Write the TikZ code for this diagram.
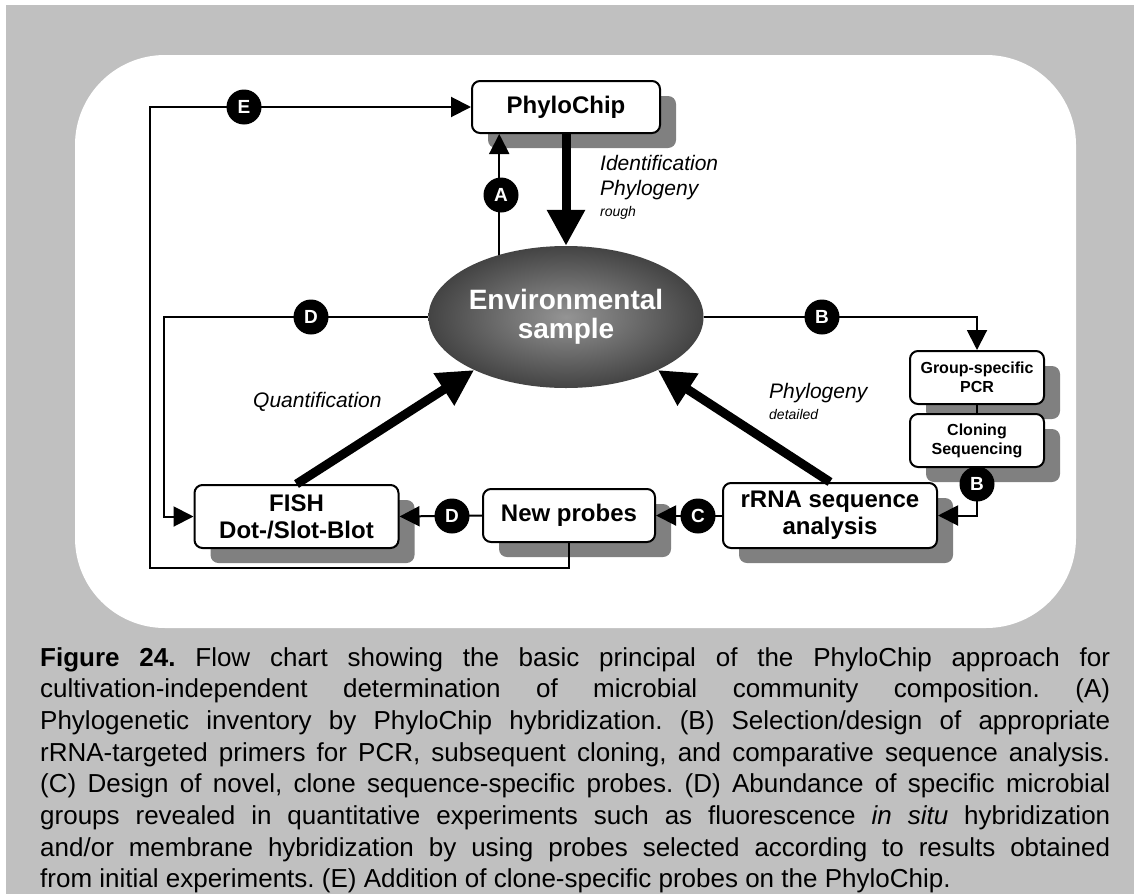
\documentclass[tikz,border=0pt]{standalone}
\usepackage{fontspec}
\setmainfont{Liberation Sans}
\usepackage{tikz}
\usetikzlibrary{arrows.meta,positioning,calc,shadows,shapes.geometric}
\definecolor{panel}{HTML}{C0C0C0}
\definecolor{shadowgray}{HTML}{808080}
\pgfdeclareradialshading{envglow}{\pgfpoint{0bp}{0bp}}{color(0bp)=(black!42); color(46bp)=(black); color(50bp)=(black)}
\tikzset{
  box/.style={draw=black,line width=2pt,fill=white,rounded corners=8pt,inner sep=0pt,align=center,
    font=\bfseries\fontsize{24}{27}\selectfont,
    drop shadow={shadow xshift=16pt,shadow yshift=-15pt,fill=shadowgray,draw=none,opacity=1}},
  smallbox/.style={box,font=\bfseries\fontsize{16}{19}\selectfont},
  labdot/.style={circle,fill=black,text=white,inner sep=0pt,minimum size=35pt,font=\bfseries\fontsize{19}{19}\selectfont},
  link/.style={line width=2pt,-{Triangle[length=20pt,width=20pt]}},
  flow/.style={line width=9pt,-{Triangle[length=36pt,width=36pt]}},
  note/.style={inner sep=0pt,align=left,anchor=north west,font=\itshape\fontsize{21}{25}\selectfont}
}

\begin{document}
\begin{tikzpicture}[x=1pt,y=-1pt]
% panel
\fill[white] (0,0) rectangle (1134,894);
\fill[panel] (6,5) rectangle (1134,894);
\fill[white,rounded corners=90pt] (75,55) rectangle (1076,628);
\useasboundingbox (0,0) rectangle (1134,894);
% boxes
\node[box,minimum width=188pt,minimum height=52pt] (chip) at (566,107){PhyloChip};
\node[ellipse,shade,shading=envglow,minimum width=256pt,minimum height=142pt,inner sep=0pt,text=white,align=center,font=\bfseries\fontsize{28}{29}\selectfont] (env) at (566,317){Environmental\\sample};
\node[box,minimum width=204pt,minimum height=63pt] (fish) at (296.5,516.5){FISH\\Dot-/Slot-Blot};
\node[box,minimum width=172pt,minimum height=53pt] (probes) at (569,515.5){New probes};
\node[box,minimum width=214pt,minimum height=65pt] (rrna) at (830,515.5){rRNA sequence\\analysis};
\node[smallbox,minimum width=134pt,minimum height=53pt] (pcr) at (977,377.5){Group-specific\\PCR};
\node[smallbox,minimum width=134pt,minimum height=53pt] (clone) at (977,440.5){Cloning\\Sequencing};
% connectors
\coordinate (eleft) at (150,568);
\draw[link] (probes.south) |- (eleft) |- (chip.west);
\draw[link] (env.west) -| ([xshift=-30pt]fish.west) -- (fish.west);
\draw[link] (env.137) -- (env.137 |- chip.south);
\draw[link] (env.east) -| (pcr.north);
\draw[line width=2pt] (pcr.south) -- (clone.north);
\draw[link] (clone.south) |- (rrna.east);
\draw[link] (rrna.west) -- (probes.east);
\draw[link] (probes.west) -- (fish.east);
\draw[flow] (chip.south) -- (env.north);
\draw[flow] (fish.north) -- (env.210);
\draw[flow] (rrna.north) -- (env.330);
% letters
\node[labdot] (dotA) at (501,195){A};
\node[labdot] (dotB) at (822,317){B};
\node[labdot] (dotBB) at (977,484){B};
\node[labdot] (dotC) at (698,516){C};
\node[labdot] (dotD) at (311,317){D};
\node[labdot] (dotDD) at (452,516){D};
\node[labdot] (dotE) at (244,107){E};
% notes
\node[note] (ident) at (600,155){Identification\\Phylogeny\\[-4pt]{\fontsize{14}{16}\selectfont rough}};
\node[note] (phydet) at (769,383){Phylogeny\\[-4pt]{\fontsize{14}{16}\selectfont detailed}};
\node[note] (quant) at (253,392){Quantification};
% caption
\node[inner sep=0pt,anchor=north west,text width=1070pt,align=justify,font=\fontsize{26}{31.7}\selectfont] (caption) at (40,647){\frenchspacing\hyphenpenalty=10000\exhyphenpenalty=10000\tolerance=10000
\textbf{Figure 24.} Flow chart showing the basic principal of the PhyloChip approach for\linebreak
cultivation-independent determination of microbial community composition. (A)\linebreak
Phylogenetic inventory by PhyloChip hybridization. (B) Selection/design of appropriate\linebreak
rRNA-targeted primers for PCR, subsequent cloning, and comparative sequence analysis.\linebreak
(C) Design of novel, clone sequence-specific probes. (D) Abundance of specific microbial\linebreak
groups revealed in quantitative experiments such as fluorescence \textit{in situ} hybridization\linebreak
and/or membrane hybridization by using probes selected according to results obtained\linebreak
from initial experiments. (E) Addition of clone-specific probes on the PhyloChip.};
\end{tikzpicture}
\end{document}
